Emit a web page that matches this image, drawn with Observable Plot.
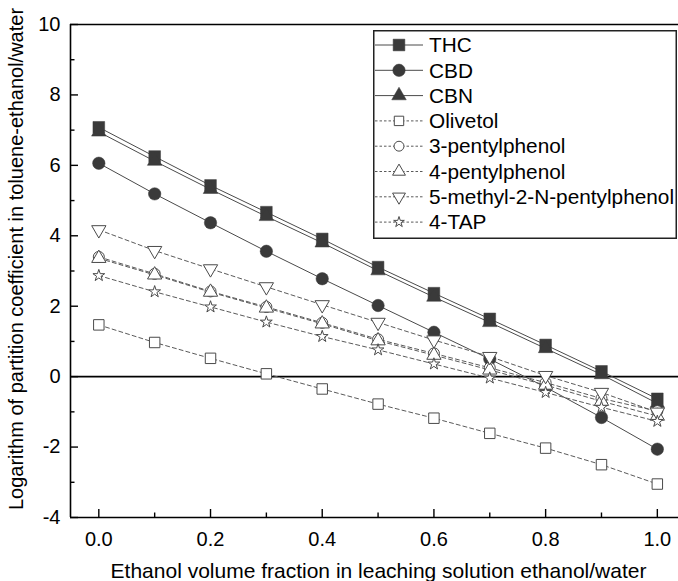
<!DOCTYPE html>
<html>
<head>
<meta charset="utf-8">
<script src="https://cdn.jsdelivr.net/npm/d3@7"></script>
<script src="https://cdn.jsdelivr.net/npm/@observablehq/plot@0.6"></script>
<style>
  html, body { margin: 0; padding: 0; background: #fff; }
  #chart { position: relative; width: 678px; height: 581px; font-family: "Liberation Sans", Arial, sans-serif; }
  #legend { position: absolute; left: 373px; top: 30px; }
</style>
</head>
<body>
<div id="chart"></div>
<script>
// Ethanol volume fraction in the ethanol/water leaching solution
const fraction = [0, 0.1, 0.2, 0.3, 0.4, 0.5, 0.6, 0.7, 0.8, 0.9, 1.0];

// log partition coefficient, toluene-ethanol/water
const thc          = [7.08, 6.25, 5.43, 4.67, 3.91, 3.11, 2.37, 1.64, 0.90, 0.15, -0.63];
const cbd          = [6.06, 5.19, 4.37, 3.56, 2.78, 2.02, 1.26, 0.50, -0.30, -1.16, -2.06];
const cbn          = [6.95, 6.12, 5.32, 4.55, 3.80, 3.01, 2.26, 1.54, 0.80, 0.06, -0.76];
const olivetol     = [1.47, 0.97, 0.52, 0.08, -0.35, -0.78, -1.18, -1.61, -2.03, -2.50, -3.05];
const pentyl3      = [3.40, 2.92, 2.42, 1.98, 1.53, 1.06, 0.66, 0.25, -0.17, -0.62, -0.98];
const pentyl4      = [3.36, 2.89, 2.40, 1.95, 1.50, 1.02, 0.61, 0.19, -0.24, -0.70, -1.12];
const methylPentyl = [4.17, 3.58, 3.06, 2.55, 2.04, 1.54, 1.04, 0.57, 0.03, -0.45, -1.01];
const tap          = [2.87, 2.41, 1.98, 1.55, 1.14, 0.76, 0.36, -0.04, -0.45, -0.87, -1.27];

const seriesNames = ["THC", "CBD", "CBN", "Olivetol", "3-pentylphenol", "4-pentylphenol",
                     "5-methyl-2-N-pentylphenol", "4-TAP"];

const xTitle = "Ethanol volume fraction in leaching solution ethanol/water";
const yTitle = "Logarithm of partition coefficient in toluene-ethanol/water";

const xMajorTicks = [0, 0.2, 0.4, 0.6, 0.8, 1.0];
const xMinorTicks = [0.1, 0.3, 0.5, 0.7, 0.9];
const yMajorTicks = [-4, -2, 0, 2, 4, 6, 8, 10];
const yMinorTicks = [-3, -1, 1, 3, 5, 7, 9];

// downward-pointing triangle (d3 has only the upward one)
const symbolTriangleDown = {
  draw(context, size) {
    const y = Math.sqrt(size / (Math.sqrt(3) * 3));
    context.moveTo(0, 2 * y);
    context.lineTo(-Math.sqrt(3) * y, -y);
    context.lineTo(Math.sqrt(3) * y, -y);
    context.closePath();
  }
};

const FONT = "'Liberation Sans', Arial, sans-serif";
const FILL_DARK = "#3a3a3a";
const LINE_DARK = "#4a4a4a";
const LINE_GRAY = "#5a5a5a";

const styles = [
  {values: thc,          symbol: d3.symbolSquare,   r: 6.6, filled: true,  dashed: false},
  {values: cbd,          symbol: d3.symbolCircle,   r: 6.2, filled: true,  dashed: false},
  {values: cbn,          symbol: d3.symbolTriangle, r: 5.4, filled: true,  dashed: false},
  {values: olivetol,     symbol: d3.symbolSquare,   r: 5.9, filled: false, dashed: true},
  {values: pentyl3,      symbol: d3.symbolCircle,   r: 5.5, filled: false, dashed: true},
  {values: pentyl4,      symbol: d3.symbolTriangle, r: 5.3, filled: false, dashed: true},
  {values: methylPentyl, symbol: symbolTriangleDown,r: 5.3, filled: false, dashed: true},
  {values: tap,          symbol: d3.symbolStar,     r: 3.7, filled: false, dashed: true}
];

const series = seriesNames.map((name, i) => ({
  name, ...styles[i],
  data: fraction.map((x, j) => ({x, y: styles[i].values[j]}))
}));

const W = 678, H = 581;
const marginLeft = 70, marginRight = 0, marginTop = 24, marginBottom = 64;
const plotW = W - marginLeft - marginRight;
const plotH = H - marginTop - marginBottom;
const xDomain = [-0.0507, 1.0379];
const yDomain = [-4, 10];

const lineMarks = series.map(s => Plot.line(s.data, {
  x: "x", y: "y",
  stroke: s.dashed ? LINE_GRAY : LINE_DARK,
  strokeWidth: 1,
  strokeDasharray: s.dashed ? "4,3" : null
}));

const dotMarks = series.map(s => Plot.dot(s.data, {
  x: "x", y: "y",
  symbol: s.symbol,
  r: s.r,
  fill: s.filled ? FILL_DARK : "#fff",
  stroke: s.filled ? FILL_DARK : "#4a4a4a",
  strokeWidth: s.filled ? 0.5 : 1
}));

const chart = Plot.plot({
  width: W, height: H,
  marginLeft, marginRight, marginTop, marginBottom,
  style: {fontFamily: FONT, background: "#fff", color: "#000"},
  x: {domain: xDomain},
  y: {domain: yDomain},
  marks: [
    // zero reference line
    Plot.ruleY([0], {stroke: "#000", strokeWidth: 1.6}),
    ...lineMarks,
    ...dotMarks,
    // axis frame: left, bottom, top
    Plot.ruleX([xDomain[0]], {stroke: "#000", strokeWidth: 1.6}),
    Plot.ruleY([yDomain[0], yDomain[1]], {stroke: "#000", strokeWidth: 1.6}),
    // inward tick marks
    Plot.tickX(xMajorTicks, {x: d => d, insetTop: plotH - 8, stroke: "#000", strokeWidth: 1.4}),
    Plot.tickX(xMinorTicks, {x: d => d, insetTop: plotH - 4.5, stroke: "#000", strokeWidth: 1.4}),
    Plot.tickY(yMajorTicks, {y: d => d, insetRight: plotW - 8, stroke: "#000", strokeWidth: 1.4}),
    Plot.tickY(yMinorTicks, {y: d => d, insetRight: plotW - 4.5, stroke: "#000", strokeWidth: 1.4}),
    Plot.axisX(xMajorTicks, {
      tickSize: 0, tickPadding: 14, fontSize: 20,
      tickFormat: d3.format(".1f"), label: null
    }),
    Plot.axisY(yMajorTicks, {
      tickSize: 0, tickPadding: 10, fontSize: 20,
      tickFormat: d => String(d), label: null
    }),
    // axis titles
    Plot.text([xTitle], {
      frameAnchor: "bottom", lineAnchor: "middle", textAnchor: "middle", dy: 54, dx: 4,
      fontSize: 21, fill: "#000"
    }),
    Plot.text([yTitle], {
      frameAnchor: "left", lineAnchor: "middle", textAnchor: "middle", rotate: -90, dx: -54, dy: -12,
      fontSize: 20, fill: "#000"
    })
  ]
});
document.getElementById("chart").appendChild(chart);

// legend box drawn over the upper-right corner of the plot
const legendW = 304, legendH = 209, rowH = 25.3;
const legend = d3.select("#chart").append("svg")
  .attr("id", "legend")
  .attr("width", legendW)
  .attr("height", legendH);
legend.append("rect")
  .attr("x", 0.75).attr("y", 0.75)
  .attr("width", legendW - 1.5).attr("height", legendH - 1.5)
  .attr("fill", "#fff").attr("stroke", "#222").attr("stroke-width", 1.5);
const rows = legend.selectAll("g.row").data(series).join("g")
  .attr("class", "row")
  .attr("transform", (d, i) => `translate(0,${15 + i * rowH})`);
rows.append("line")
  .attr("x1", 2).attr("x2", 50).attr("y1", 0).attr("y2", 0)
  .attr("stroke", d => d.dashed ? LINE_GRAY : LINE_DARK)
  .attr("stroke-width", 1)
  .attr("stroke-dasharray", d => d.dashed ? "2.5,2" : null);
rows.append("path")
  .attr("transform", "translate(26,0)")
  .attr("d", d => d3.symbol(d.symbol, Math.PI * (d.filled ? d.r : d.r * 0.9) ** 2)())
  .attr("fill", d => d.filled ? FILL_DARK : "#fff")
  .attr("stroke", d => d.filled ? FILL_DARK : "#4a4a4a")
  .attr("stroke-width", d => d.filled ? 0.5 : 1);
rows.append("text")
  .attr("x", 56).attr("y", 0).attr("dy", "0.35em")
  .attr("font-size", 20.8)
  .attr("font-family", FONT)
  .attr("fill", "#000")
  .text(d => d.name);
</script>
</body>
</html>
